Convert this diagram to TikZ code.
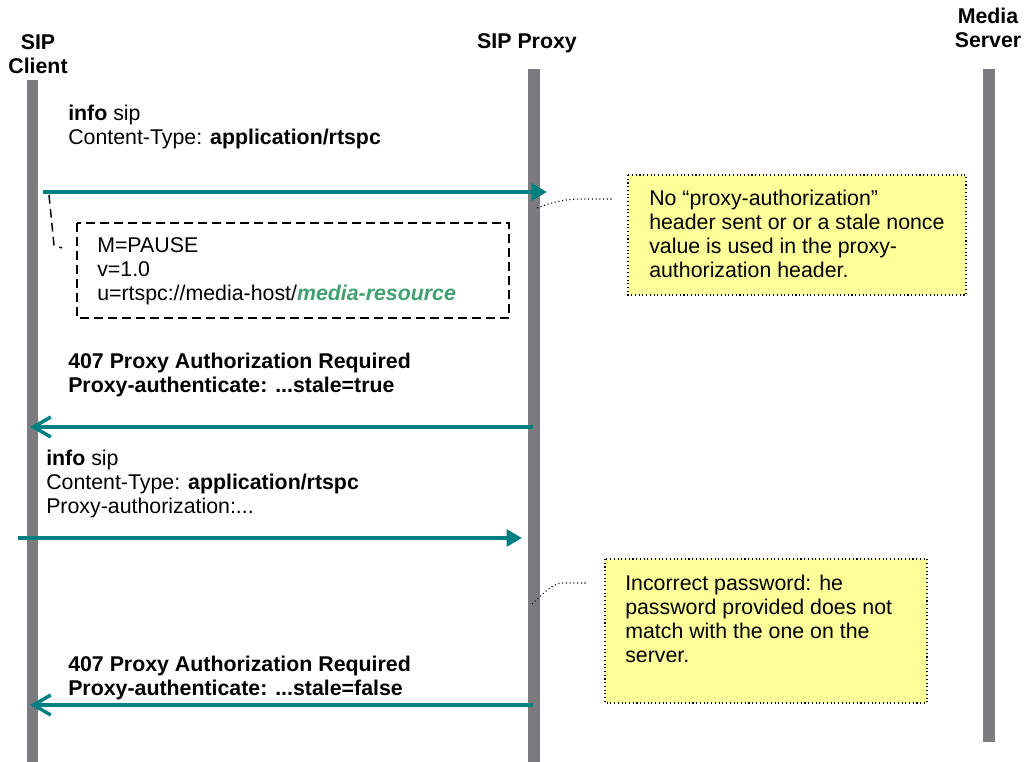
\documentclass[tikz,border=0pt]{standalone}
\usepackage{fontspec}
\setmainfont{Liberation Sans}
\usetikzlibrary{arrows.meta}
\definecolor{lifegray}{RGB}{123,123,128}
\definecolor{msgteal}{RGB}{0,128,128}
\definecolor{noteyellow}{RGB}{255,255,153}
\definecolor{resgreen}{RGB}{64,160,112}
\tikzset{
  lifeline/.style={fill=lifegray, draw=none},
  hdr/.style={font=\fontsize{16}{18}\selectfont\bfseries, align=center, inner sep=0pt},
  msgtext/.style={font=\fontsize{16}{18}\selectfont, align=left, inner sep=0pt, anchor=base west},
  sendmsg/.style={draw=msgteal, line width=3pt, -{Triangle[length=11.5pt,width=12.5pt]}},
  replymsg/.style={draw=msgteal, line width=3pt, -{Straight Barb[length=13pt,width=15pt,line width=2.6pt]}},
  notebox/.style={fill=noteyellow, draw=black, dotted, line width=0.8pt},
  noteline/.style={draw=black, dotted, line width=0.8pt},
  bodybox/.style={draw=black, line width=1.1pt, dash pattern=on 6.5pt off 4pt},
  bodyline/.style={draw=black, line width=1.1pt, dash pattern=on 6.5pt off 4pt},
}
\begin{document}
\begin{tikzpicture}[x=0.75pt,y=-0.75pt]
\useasboundingbox (0,0) rectangle (1028,762);
% lifelines
\fill[lifeline] (27,80) rectangle (38,762);
\fill[lifeline] (528,69) rectangle (540,762);
\fill[lifeline] (983,69) rectangle (995,742);
% headers (anchor = baseline of last line)
\node[hdr, anchor=base] (hclient) at (38,74) {SIP\\Client};
\node[hdr, anchor=base] (hproxy) at (527,49) {SIP Proxy};
\node[hdr, anchor=base] (hmedia) at (988,48) {Media\\Server};
% message 1
\node[msgtext] (m1) at (68,145) {\textbf{info} sip\\Content-Type: \textbf{application/rtspc}};
\coordinate (a1s) at (43,192);
\coordinate (a1e) at (547,192);
\draw[sendmsg] (a1s) -- (a1e);
% body box
\coordinate (bx1) at (77,223);
\coordinate (bx2) at (509,318);
\draw[bodybox] (bx1) rectangle (bx2);
\node[msgtext] (body) at (97,301) {M=PAUSE\\v=1.0\\u=rtspc://media-host/\textcolor{resgreen}{\textbf{\textit{media-resource}}}};
\coordinate (d1) at (49,195);
\coordinate (d2) at (54,245);
\coordinate (d3) at (62,248);
\draw[bodyline] (d1) -- (d2) -- (d3);
% note 1
\coordinate (n1a) at (628,175);
\coordinate (n1b) at (966,295);
\draw[notebox] (n1a) rectangle (n1b);
\node[msgtext] (note1) at (649,278) {No “proxy-authorization”\\header sent or or a stale nonce\\value is used in the proxy-\\authorization header.};
\coordinate (c1s) at (537,208);
\coordinate (c1m) at (582,199);
\coordinate (c1e) at (613,199);
\draw[noteline] (c1s) .. controls (555,201) and (568,199) .. (c1m) -- (c1e);
% message 2
\node[msgtext, font=\fontsize{16}{18}\selectfont\bfseries] (m2) at (68,393) {407 Proxy Authorization Required\\Proxy-authenticate: ...stale=true};
\coordinate (a2s) at (533,427);
\coordinate (a2e) at (30,427);
\draw[replymsg] (a2s) -- (a2e);
% message 3
\node[msgtext] (m3) at (46,514) {\textbf{info} sip\\Content-Type: \textbf{application/rtspc}\\Proxy-authorization:...};
\coordinate (a3s) at (18,538);
\coordinate (a3e) at (522,538);
\draw[sendmsg] (a3s) -- (a3e);
% note 2
\coordinate (n2a) at (605,559);
\coordinate (n2b) at (927,703);
\draw[notebox] (n2a) rectangle (n2b);
\node[msgtext] (note2) at (625,662) {Incorrect password: he\\password provided does not\\match with the one on the\\server.};
\coordinate (c2s) at (532,604);
\coordinate (c2m) at (563,583);
\coordinate (c2e) at (587,583);
\draw[noteline] (c2s) .. controls (545,592) and (553,583) .. (c2m) -- (c2e);
% message 4
\node[msgtext, font=\fontsize{16}{18}\selectfont\bfseries] (m4) at (68,695) {407 Proxy Authorization Required\\Proxy-authenticate: ...stale=false};
\coordinate (a4s) at (533,705);
\coordinate (a4e) at (30,705);
\draw[replymsg] (a4s) -- (a4e);
\end{tikzpicture}
\end{document}
